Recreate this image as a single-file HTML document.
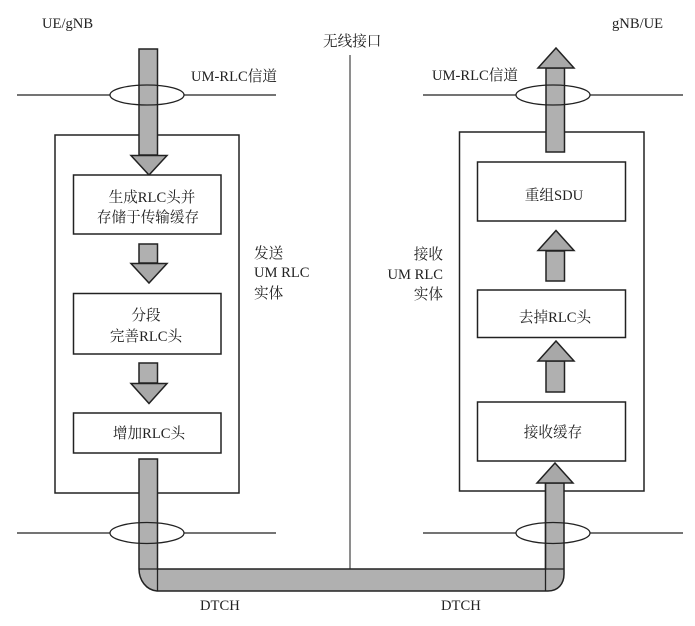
<!DOCTYPE html>
<html>
<head>
<meta charset="utf-8">
<style>
html,body{margin:0;padding:0;background:#fff;width:695px;height:626px;overflow:hidden}
svg{display:block}
text{font-family:"Liberation Serif","Noto Serif CJK SC",serif;font-size:14.6px;fill:#222}
.s{fill:#b0b0b0;stroke:#222;stroke-width:1.5}
.h{fill:#a8a8a8;stroke:#222;stroke-width:1.5}
.l{fill:none;stroke:#222;stroke-width:1.3}
.b{fill:#fff;stroke:#222;stroke-width:1.5}
.m{text-anchor:middle}
.e{text-anchor:end}
</style>
</head>
<body>
<svg width="695" height="626" viewBox="0 0 695 626" xmlns="http://www.w3.org/2000/svg">
<!-- entity boxes -->
<rect class="b" x="55" y="135" width="184" height="358"/>
<rect class="b" x="459.500" y="132" width="184.500" height="359"/>
<!-- centre line -->
<line x1="350" y1="55" x2="350" y2="569" stroke="#444" stroke-width="1.2"/>
<!-- channel lines -->
<g class="l">
<line x1="17" y1="95" x2="110" y2="95"/><line x1="184" y1="95" x2="276" y2="95"/>
<line x1="423" y1="95" x2="516" y2="95"/><line x1="590" y1="95" x2="683" y2="95"/>
<line x1="17" y1="533" x2="110" y2="533"/><line x1="184" y1="533" x2="276" y2="533"/>
<line x1="423" y1="533" x2="516" y2="533"/><line x1="590" y1="533" x2="683" y2="533"/>
</g>
<!-- left arrows -->
<rect class="s" x="139" y="49" width="18.500" height="106"/>
<polygon class="h" points="131,155.500 167,155.500 149,175"/>
<rect class="s" x="139" y="244" width="18.500" height="19"/>
<polygon class="h" points="131,263.500 167,263.500 149,283"/>
<rect class="s" x="139" y="363" width="18.500" height="20"/>
<polygon class="h" points="131,383.500 167,383.500 149,403.500"/>
<!-- left down shaft, bottom band, right up shaft -->
<path class="s" d="M139 459H157.500V569H545.500V483H564V574C564 584 558 591 548 591H157C146 590 139 580 139 569Z"/>
<path class="l" d="M139 569H157.500V591"/>
<path class="l" d="M545.500 483V591M545.500 569H564"/>
<polygon class="h" points="537,483 573,483 555,463"/>
<!-- right arrows -->
<rect class="s" x="546" y="68" width="18.500" height="84"/>
<polygon class="h" points="538,68 574,68 556,48"/>
<rect class="s" x="546" y="251" width="18.500" height="30"/>
<polygon class="h" points="538,250.500 574,250.500 556,230.500"/>
<rect class="s" x="546" y="361" width="18.500" height="31"/>
<polygon class="h" points="538,361 574,361 556,341"/>
<!-- inner boxes -->
<rect class="b" x="73.500" y="175" width="147.500" height="59"/>
<rect class="b" x="73.500" y="293.500" width="147.500" height="60.500"/>
<rect class="b" x="73.500" y="413" width="147.500" height="40"/>
<rect class="b" x="477.500" y="162" width="148" height="59"/>
<rect class="b" x="477.500" y="290" width="148" height="47.500"/>
<rect class="b" x="477.500" y="402" width="148" height="59"/>
<!-- ellipses -->
<g class="l">
<ellipse cx="147" cy="95" rx="37" ry="10"/>
<ellipse cx="553" cy="95" rx="37" ry="10"/>
<ellipse cx="147" cy="533" rx="37" ry="10.500"/>
<ellipse cx="553" cy="533" rx="37" ry="10.500"/>
</g>
<!-- labels -->
<text x="42" y="28">UE/gNB</text>
<text x="612" y="28">gNB/UE</text>
<text x="323" y="46">无线接口</text>
<text x="191" y="81">UM-RLC信道</text>
<text x="432" y="80">UM-RLC信道</text>
<text class="m" x="152" y="202">生成RLC头并</text>
<text class="m" x="148" y="222">存储于传输缓存</text>
<text class="m" x="146" y="320">分段</text>
<text class="m" x="146" y="341">完善RLC头</text>
<text class="m" x="149" y="438">增加RLC头</text>
<text class="m" x="554" y="200">重组SDU</text>
<text class="m" x="555" y="322">去掉RLC头</text>
<text class="m" x="553" y="437">接收缓存</text>
<text x="254" y="258">发送</text>
<text x="254" y="277">UM RLC</text>
<text x="254" y="298">实体</text>
<text class="e" x="443" y="259">接收</text>
<text class="e" x="443" y="279">UM RLC</text>
<text class="e" x="443" y="299">实体</text>
<text x="200" y="610">DTCH</text>
<text x="441" y="610">DTCH</text>
</svg>
</body>
</html>
